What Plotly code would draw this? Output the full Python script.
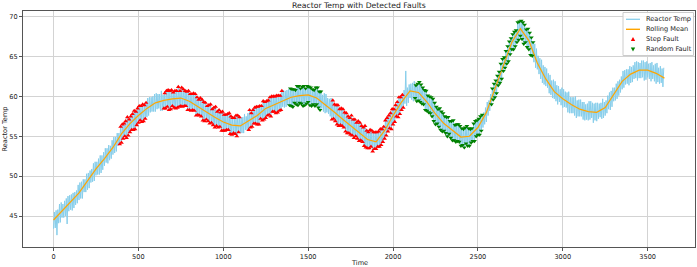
import plotly.graph_objects as go

# ---------------- data ----------------
# The raw signal swings between a low and a high reading inside every 10-unit
# slot: low reading at t = 10k, high reading at t = 10k + 5.
slot_start = list(range(0, 3600, 10))

temp_low_swings = [
    43.4, 43.5, 42.6, 44.1, 44.2, 44.8, 44.8, 45.0, 44.0, 45.6,
    45.8, 45.7, 46.0, 46.4, 46.6, 47.0, 47.2, 47.2, 48.0, 48.0,
    48.3, 48.5, 49.2, 49.3, 49.4, 50.1, 50.2, 50.2, 50.4, 50.8,
    51.3, 51.7, 51.6, 52.0, 52.2, 52.7, 52.9, 53.1, 53.8, 54.0,
    54.2, 54.7, 55.0, 54.8, 55.1, 55.5, 55.8, 55.8, 55.9, 56.4,
    56.7, 57.0, 56.8, 56.9, 57.2, 57.4, 57.6, 58.0, 58.1, 58.1,
    58.1, 58.4, 58.5, 58.2, 58.2, 58.5, 58.5, 58.7, 58.3, 58.4,
    58.8, 58.6, 58.5, 58.6, 58.7, 58.8, 58.7, 58.8, 58.8, 58.3,
    58.3, 58.2, 58.3, 58.2, 57.6, 57.7, 57.6, 57.5, 57.0, 56.9,
    57.1, 56.9, 56.6, 56.7, 56.4, 56.1, 56.3, 56.1, 56.2, 55.7,
    55.7, 55.7, 55.8, 55.8, 55.3, 55.2, 55.4, 55.3, 55.0, 55.5,
    55.4, 55.4, 55.4, 55.8, 55.8, 55.8, 56.1, 56.2, 56.6, 56.6,
    56.5, 56.5, 57.2, 57.0, 57.1, 57.3, 57.6, 57.7, 57.5, 58.1,
    58.1, 57.9, 58.0, 58.2, 58.3, 58.7, 58.6, 58.7, 58.9, 58.9,
    58.8, 58.7, 59.2, 59.0, 58.9, 59.2, 59.1, 58.8, 58.9, 59.1,
    59.3, 58.9, 58.8, 59.0, 58.8, 59.0, 58.6, 58.3, 58.5, 58.1,
    57.9, 58.0, 57.8, 57.5, 57.1, 57.2, 56.9, 56.5, 56.3, 56.4,
    56.3, 56.1, 55.6, 55.4, 55.4, 55.2, 55.1, 54.8, 55.0, 54.7,
    54.4, 54.5, 54.3, 53.8, 53.6, 53.5, 53.5, 53.7, 53.1, 53.4,
    53.4, 53.7, 53.7, 53.9, 54.3, 54.7, 55.1, 55.6, 56.0, 55.9,
    56.5, 56.8, 57.5, 57.4, 57.8, 58.3, 58.6, 59.1, 58.8, 59.2,
    59.8, 59.6, 59.4, 59.8, 59.4, 59.5, 59.3, 59.1, 59.0, 58.3,
    58.2, 58.0, 57.9, 57.5, 56.9, 56.5, 56.6, 56.2, 55.8, 55.6,
    55.7, 55.4, 55.0, 55.3, 54.8, 54.5, 54.5, 54.3, 54.4, 54.3,
    53.8, 53.9, 53.6, 54.1, 53.8, 53.8, 54.2, 54.4, 54.4, 55.0,
    55.2, 55.2, 55.7, 56.1, 56.5, 56.8, 57.6, 58.2, 59.0, 59.6,
    59.9, 60.4, 61.4, 61.7, 62.2, 63.2, 63.6, 64.1, 64.4, 65.3,
    65.9, 65.9, 66.3, 66.8, 67.1, 67.6, 67.2, 66.6, 66.8, 66.2,
    65.9, 65.2, 65.1, 64.3, 63.6, 63.4, 62.8, 62.2, 61.7, 61.5,
    61.3, 61.1, 60.4, 60.2, 59.8, 59.7, 59.4, 59.0, 59.3, 58.9,
    58.6, 58.7, 58.6, 58.0, 57.9, 57.9, 57.9, 57.6, 57.3, 57.5,
    57.5, 57.5, 57.1, 57.0, 57.1, 57.0, 57.1, 57.3, 56.7, 57.0,
    56.9, 57.2, 57.4, 57.2, 57.3, 57.6, 57.9, 58.4, 58.3, 58.7,
    59.4, 59.5, 59.7, 60.1, 60.5, 60.9, 61.1, 61.5, 61.6, 61.4,
    61.7, 61.8, 62.2, 62.3, 62.0, 62.3, 62.3, 62.4, 62.0, 62.1,
    62.4, 62.2, 61.9, 62.2, 61.9, 61.6, 61.8, 61.6, 61.7, 61.2,
]

temp_high_swings = [
    45.5, 45.7, 45.8, 46.5, 46.7, 46.5, 46.9, 47.2, 47.5, 47.6,
    47.7, 47.9, 48.0, 48.2, 48.9, 49.2, 49.3, 49.6, 49.6, 50.3,
    50.4, 50.7, 50.9, 51.6, 51.8, 51.8, 52.2, 52.6, 52.6, 53.0,
    53.5, 53.5, 53.9, 53.8, 54.5, 54.9, 54.9, 55.4, 55.4, 56.2,
    56.5, 56.6, 56.9, 57.4, 57.1, 57.5, 57.8, 58.2, 58.1, 58.5,
    58.8, 58.8, 59.0, 58.9, 59.2, 59.8, 59.9, 59.9, 60.0, 60.3,
    60.4, 60.3, 60.3, 60.7, 60.2, 60.4, 60.7, 60.8, 60.7, 60.8,
    60.5, 60.7, 60.7, 61.2, 60.7, 61.1, 60.9, 60.7, 60.6, 60.7,
    60.3, 60.3, 60.4, 60.3, 59.9, 59.6, 59.8, 59.6, 59.3, 59.2,
    58.8, 58.9, 59.0, 58.4, 58.6, 58.7, 58.1, 58.3, 58.0, 58.1,
    57.7, 57.7, 57.8, 57.9, 57.5, 57.3, 57.3, 57.6, 57.6, 57.4,
    57.4, 57.4, 57.8, 57.5, 57.9, 58.3, 57.9, 58.3, 58.6, 58.7,
    58.7, 58.8, 58.8, 59.4, 59.3, 59.4, 59.5, 59.9, 60.0, 60.0,
    60.0, 60.1, 60.1, 60.1, 60.7, 60.8, 60.7, 60.8, 60.9, 61.0,
    60.9, 60.9, 60.8, 61.3, 61.3, 61.0, 61.2, 61.3, 61.0, 61.3,
    61.2, 61.1, 60.9, 60.8, 61.1, 61.1, 60.6, 60.6, 60.2, 60.4,
    60.3, 59.8, 59.7, 59.8, 59.5, 59.0, 58.9, 58.9, 58.4, 58.5,
    58.4, 58.0, 57.9, 57.5, 57.3, 57.6, 57.1, 57.1, 56.7, 56.9,
    56.7, 56.3, 56.1, 56.3, 55.7, 55.5, 55.8, 55.7, 55.5, 55.5,
    55.5, 55.6, 55.9, 55.9, 56.2, 57.0, 57.3, 57.6, 57.9, 58.4,
    58.4, 58.9, 59.3, 59.9, 59.9, 60.2, 60.8, 63.2, 61.1, 61.5,
    61.6, 61.7, 61.9, 61.4, 61.6, 61.8, 61.5, 61.1, 60.8, 60.7,
    60.1, 60.0, 59.9, 59.7, 59.2, 58.7, 58.4, 58.5, 58.1, 57.9,
    57.5, 57.4, 57.4, 56.9, 56.9, 57.0, 56.4, 56.5, 56.5, 56.3,
    56.0, 55.9, 56.1, 56.3, 56.0, 55.9, 56.0, 56.6, 56.9, 57.0,
    57.2, 57.5, 57.7, 58.0, 58.6, 59.3, 59.5, 60.3, 61.0, 61.6,
    62.0, 62.6, 63.1, 64.1, 64.7, 64.9, 65.7, 66.3, 66.9, 67.3,
    67.8, 68.1, 68.3, 69.3, 69.4, 69.5, 69.3, 69.0, 68.4, 68.5,
    68.0, 67.4, 66.8, 66.6, 66.0, 65.1, 64.8, 64.6, 63.9, 63.7,
    63.5, 62.9, 62.7, 62.0, 62.1, 61.9, 61.4, 61.3, 60.9, 61.1,
    60.9, 60.6, 60.5, 60.6, 59.9, 59.9, 59.9, 60.0, 59.5, 59.6,
    59.6, 59.3, 59.3, 59.0, 59.1, 59.4, 59.4, 59.2, 59.1, 59.2,
    59.2, 59.1, 59.2, 59.7, 59.3, 59.5, 60.1, 60.5, 60.7, 61.1,
    61.1, 61.6, 61.9, 62.1, 62.5, 63.2, 63.3, 63.4, 63.4, 63.8,
    63.7, 63.9, 64.3, 64.4, 64.3, 64.2, 64.5, 64.5, 64.3, 64.4,
    64.1, 64.2, 64.3, 63.9, 64.1, 64.2, 63.6, 63.8, 63.5, 63.6,
]

mean_time = list(range(0, 3600, 50)) + [3599]
mean_vals = [
    44.5, 45.6, 46.7, 47.9, 49.4, 50.9, 52.2, 53.6, 55.3, 56.6,
    57.6, 58.5, 59.2, 59.5, 59.7, 59.8, 59.4, 58.7, 58.0, 57.4,
    56.8, 56.4, 56.3, 57.0, 57.6, 58.5, 59.0, 59.5, 59.9, 60.1,
    60.2, 59.8, 59.0, 58.1, 57.2, 56.3, 55.5, 54.6, 54.3, 55.7,
    57.6, 59.3, 60.7, 60.5, 59.3, 57.8, 56.6, 55.7, 54.9, 55.0,
    56.1, 58.0, 61.0, 64.0, 66.8, 68.5, 67.0, 64.2, 62.2, 60.6,
    59.7, 59.0, 58.4, 58.1, 58.0, 58.6, 60.3, 61.9, 62.8, 63.3,
    63.3, 62.9, 62.3,
]

step_fault_windows = [(390, 545), (650, 1095), (1150, 1165), (1170, 1345), (1640, 2060)]
random_fault_windows = [(1390, 1575), (2130, 2525), (2580, 2825)]

x_ticks = [0, 500, 1000, 1500, 2000, 2500, 3000, 3500]
y_ticks = [45, 50, 55, 60, 65, 70]

legend_labels = ["Reactor Temp", "Rolling Mean", "Step Fault", "Random Fault"]

# ---------------- assemble the raw series ----------------
time, temp = [], []
for t0, lo, hi in zip(slot_start, temp_low_swings, temp_high_swings):
    time += [t0, t0 + 5]
    temp += [lo, hi]

def in_windows(t, windows):
    return any(a <= t <= b for a, b in windows)

step_x = [t for t, v in zip(time, temp) if in_windows(t, step_fault_windows)]
step_y = [v for t, v in zip(time, temp) if in_windows(t, step_fault_windows)]
rand_x = [t for t, v in zip(time, temp) if in_windows(t, random_fault_windows)]
rand_y = [v for t, v in zip(time, temp) if in_windows(t, random_fault_windows)]

C_RAW = "#87CEEB"
C_MEAN = "#FFA500"
C_STEP = "#FF0000"
C_RAND = "#008000"
FONT = "DejaVu Sans"
TXT = "#222222"

fig = go.Figure()
fig.add_trace(go.Scatter(x=time, y=temp, mode="lines", name=legend_labels[0],
                         line=dict(color=C_RAW, width=1.0, simplify=False), hoverinfo="skip"))
fig.add_trace(go.Scatter(x=mean_time, y=mean_vals, mode="lines", name=legend_labels[1],
                         line=dict(color=C_MEAN, width=1.2)))
fig.add_trace(go.Scatter(x=step_x, y=step_y, mode="markers", name=legend_labels[2],
                         marker=dict(symbol="triangle-up", size=4.2, color=C_STEP,
                                     line=dict(width=0))))
fig.add_trace(go.Scatter(x=rand_x, y=rand_y, mode="markers", name=legend_labels[3],
                         marker=dict(symbol="triangle-down", size=4.2, color=C_RAND,
                                     line=dict(width=0))))

W, H = 697, 267
L, R, T, B = 23, 695, 11, 247

axis_common = dict(
    showgrid=True, gridcolor="#d3d3d3", gridwidth=1,
    showline=True, mirror=True, linecolor="#555555", linewidth=1,
    ticks="outside", ticklen=3, tickwidth=1, tickcolor="#555555",
    tickfont=dict(family=FONT, size=6.6, color=TXT),
    zeroline=False,
)

fig.update_layout(
    width=W, height=H,
    margin=dict(l=L, r=W - R, t=T, b=H - B, autoexpand=False),
    paper_bgcolor="white", plot_bgcolor="white",
    showlegend=False,
    xaxis=dict(range=[-180, 3779], tickmode="array", tickvals=x_ticks,
               ticktext=[str(v) for v in x_ticks], automargin=False, **axis_common),
    yaxis=dict(range=[41.11, 70.72], tickmode="array", tickvals=y_ticks,
               ticktext=[str(v) for v in y_ticks], automargin=False, **axis_common),
)

def px_x(p):
    return (p - L) / (R - L)

def px_y(p):
    return (B - p) / (B - T)

annotations = [
    dict(text="Reactor Temp with Detected Faults", x=0.5, y=px_y(5.2), xref="paper", yref="paper",
         xanchor="center", yanchor="middle", showarrow=False,
         font=dict(family=FONT, size=7.7, color=TXT)),
    dict(text="Time", x=0.5, y=px_y(262.5), xref="paper", yref="paper",
         xanchor="center", yanchor="middle", showarrow=False,
         font=dict(family=FONT, size=6.6, color=TXT)),
    dict(text="Reactor Temp", x=px_x(4.5), y=0.5, xref="paper", yref="paper",
         xanchor="center", yanchor="middle", showarrow=False, textangle=-90,
         font=dict(family=FONT, size=6.6, color=TXT)),
]

# legend box (manual, to match the compact matplotlib legend)
shapes = [dict(type="rect", xref="paper", yref="paper", layer="above",
               x0=px_x(623), x1=px_x(693.5), y0=px_y(55.5), y1=px_y(12.5),
               fillcolor="rgba(255,255,255,0.85)", line=dict(color="#cccccc", width=1))]
rows = [19.3, 29.3, 39.3, 49.3]
shapes.append(dict(type="line", xref="paper", yref="paper", layer="above",
                   x0=px_x(626), x1=px_x(640), y0=px_y(rows[0]), y1=px_y(rows[0]),
                   line=dict(color=C_RAW, width=1.3)))
shapes.append(dict(type="line", xref="paper", yref="paper", layer="above",
                   x0=px_x(626), x1=px_x(640), y0=px_y(rows[1]), y1=px_y(rows[1]),
                   line=dict(color=C_MEAN, width=1.4)))

def tri(cx, cy, up=True, s=2.2):
    if up:
        pts = [(cx, cy - s), (cx - s, cy + s * 0.8), (cx + s, cy + s * 0.8)]
    else:
        pts = [(cx, cy + s), (cx - s, cy - s * 0.8), (cx + s, cy - s * 0.8)]
    return "M {} {} L {} {} L {} {} Z".format(
        px_x(pts[0][0]), px_y(pts[0][1]), px_x(pts[1][0]), px_y(pts[1][1]),
        px_x(pts[2][0]), px_y(pts[2][1]))

shapes.append(dict(type="path", xref="paper", yref="paper", layer="above",
                   path=tri(633, rows[2], True), fillcolor=C_STEP, line=dict(width=0)))
shapes.append(dict(type="path", xref="paper", yref="paper", layer="above",
                   path=tri(633, rows[3], False), fillcolor=C_RAND, line=dict(width=0)))

for lab, ry in zip(legend_labels, rows):
    annotations.append(dict(text=lab, x=px_x(643.5), y=px_y(ry), xref="paper", yref="paper",
                            xanchor="left", yanchor="middle", showarrow=False,
                            font=dict(family=FONT, size=6.6, color=TXT)))

fig.update_layout(annotations=annotations, shapes=shapes)
fig.write_html("out.html")
